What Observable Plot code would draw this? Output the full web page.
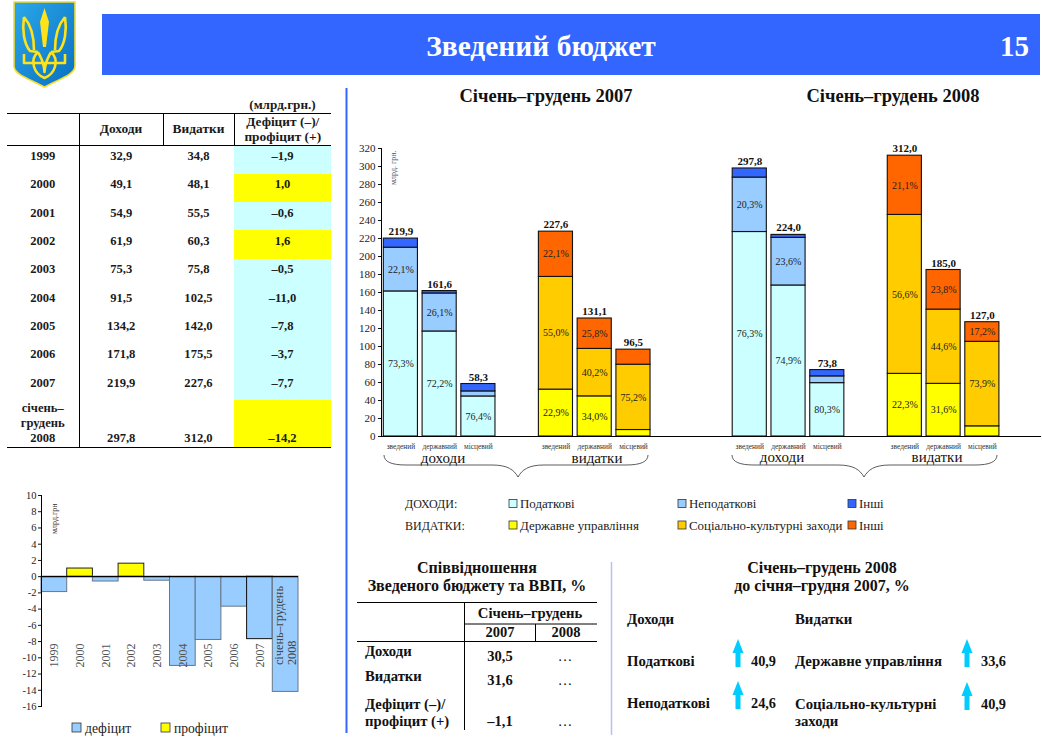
<!DOCTYPE html>
<html lang="uk">
<head>
<meta charset="utf-8">
<script src="https://cdn.jsdelivr.net/npm/d3@7"></script>
<script src="https://cdn.jsdelivr.net/npm/@observablehq/plot@0.6"></script>
<style>
html,body{margin:0;padding:0;background:#fff}
#page{position:relative;width:1042px;height:742px;overflow:hidden;font-family:"Liberation Serif",serif;color:#111}
#page>svg{position:absolute}
#balance{position:absolute;left:7px;top:97px;width:324px;border-collapse:collapse;table-layout:fixed;font-size:12.6px;font-weight:bold;text-align:center;color:#1a1a1a}
#balance td,#balance th{padding:0;height:28.3px;vertical-align:middle;font-weight:bold;line-height:15px}
#balance td{padding-bottom:6px;box-sizing:border-box}
#balance th{line-height:14.5px;font-size:13.4px}
#balance .cap th{height:16px;border:0;line-height:16px;font-size:13.2px}
#balance .hd th{height:31px;border-top:1px solid #000;border-bottom:1px solid #000}
#balance .hd th+th{border-left:1px solid #000}
#balance td:first-child{border-right:1px solid #000}
#balance tr.last td{height:47px;padding:0 0 1px;vertical-align:bottom;border-bottom:1px solid #000}
</style>
</head>
<body>
<div id="page"></div>
<script>
// ---------- Top-left table ----------
const tableYears = ["1999","2000","2001","2002","2003","2004","2005","2006","2007"];
const tableLastYear = ["січень–","грудень","2008"];
const revenues = [32.9,49.1,54.9,61.9,75.3,91.5,134.2,171.8,219.9,297.8];
const expenses = [34.8,48.1,55.5,60.3,75.8,102.5,142.0,175.5,227.6,312.0];
const balances = [-1.9,1.0,-0.6,1.6,-0.5,-11.0,-7.8,-3.7,-7.7,-14.2];

// ---------- Deficit chart ----------
const deficitLabels = ["1999","2000","2001","2002","2003","2004","2005","2006","2007","січень–грудень|2008"];

// ---------- Main stacked chart ----------
const slots = ["a0","a1","a2","s0","b0","b1","b2","s1","s2","c0","c1","c2","s3","d0","d1","d2","s4"];
const barSlots = ["a0","a1","a2","b0","b1","b2","c0","c1","c2","d0","d1","d2"];
const barNames = ["зведений","державний","місцевий"];
const barTotals = [219.9,161.6,58.3,227.6,131.1,96.5,297.8,224.0,73.8,312.0,185.0,127.0];
const lowerValues = [161.2,116.7,44.5,52.1,44.6,7.2,227.2,167.8,59.3,69.6,58.5,11.3];
const middleValues = [48.6,42.2,5.6,125.2,52.7,72.6,60.5,52.9,7.5,176.6,82.5,93.9];
const upperValues = [10.1,2.7,8.2,50.3,33.8,16.7,10.1,3.3,7.0,65.8,44.0,21.8];
const lowerShares = ["73,3%","72,2%","76,4%","22,9%","34,0%","","76,3%","74,9%","80,3%","22,3%","31,6%",""];
const middleShares = ["22,1%","26,1%","","55,0%","40,2%","75,2%","20,3%","23,6%","","56,6%","44,6%","73,9%"];
const upperShares = ["","","","22,1%","25,8%","","","","","21,1%","23,8%","17,2%"];
const incomeColors = ["#ccffff","#99ccff","#3366ff"];
const spendColors = ["#ffff00","#ffcc00","#ff6600"];

const legendIncome = ["Податкові","Неподаткові","Інші"];
const legendSpend = ["Державне управління","Соціально-культурні заходи","Інші"];

const ratioRows = [["Доходи","30,5","…"],["Видатки","31,6","…"],["профіцит (+)","–1,1","…"]];

const comma = v => v.toFixed(1).replace(".",",");
const signed = v => (v<0?"–":"")+Math.abs(v).toFixed(1).replace(".",",");
const serif = '"Liberation Serif",serif';
const page = document.getElementById("page");

// ---------- Table (HTML) ----------
const tb = document.createElement("table");
tb.id = "balance";
let html = '<colgroup><col style="width:72px"><col style="width:84px"><col style="width:71px"><col style="width:97px"></colgroup>';
html += '<tr class="cap"><th></th><th></th><th></th><th>(млрд.грн.)</th></tr>';
html += '<tr class="hd"><th></th><th>Доходи</th><th>Видатки</th><th>Дефіцит (–)/<br>профіцит (+)</th></tr>';
tableYears.forEach((y,i)=>{
  html += `<tr><td>${y}</td><td>${comma(revenues[i])}</td><td>${comma(expenses[i])}</td><td style="background:${balances[i]>0?"#ffff00":"#ccffff"}">${signed(balances[i])}</td></tr>`;
});
const n = tableYears.length;
html += `<tr class="last"><td>${tableLastYear.join("<br>")}</td><td>${comma(revenues[n])}</td><td>${comma(expenses[n])}</td><td style="background:#ffff00">${signed(balances[n])}</td></tr>`;
tb.innerHTML = html;
page.appendChild(tb);

// ---------- Main chart ----------
const stackRows = [];
barSlots.forEach((s,i)=>{
  const colors = i%6<3 ? incomeColors : spendColors;
  [[lowerValues,lowerShares],[middleValues,middleShares],[upperValues,upperShares]].forEach(([vals,shares],k)=>{
    stackRows.push({slot:s,layer:k,value:vals[i],share:shares[i],color:colors[k]});
  });
});
const totalRows = barSlots.map((s,i)=>({slot:s,total:barTotals[i]}));
const main = Plot.plot({
  width:690,height:340,
  marginLeft:31,marginRight:0,marginTop:18,marginBottom:34,
  style:{fontFamily:serif,background:"transparent",overflow:"visible"},
  x:{domain:slots,paddingInner:0.12,paddingOuter:0.06,round:false,axis:null},
  y:{domain:[0,320],axis:null},
  marks:[
    Plot.rectY(stackRows,Plot.stackY({x:"slot",y:"value",z:"layer",fill:"color",stroke:"#111",strokeWidth:1.1})),
    Plot.text(stackRows,Plot.stackY({x:"slot",y:"value",z:"layer",text:"share",fontSize:10,fill:"#222"})),
    Plot.text(totalRows,{x:"slot",y:"total",text:d=>comma(d.total),dy:-7,fontSize:11,fontWeight:"bold",fill:"#111"}),
    Plot.axisY({ticks:d3.range(0,321,20),tickFormat:d=>String(d),tickSize:3,tickPadding:3,fontSize:11,fill:"#222",label:null}),
    Plot.axisX({domain:barSlots,ticks:barSlots,tickSize:0,tickPadding:7,fontSize:7.4,fill:"#333",label:null,
      tickFormat:s=>barNames[barSlots.indexOf(s)%3]}),
    Plot.frame({anchor:"left",stroke:"#000",strokeWidth:1}),
    Plot.frame({anchor:"bottom",stroke:"#000",strokeWidth:1.2})
  ]
});
main.style.left="350px";main.style.top="130px";
page.appendChild(main);

// ---------- Deficit chart ----------
const defRows = deficitLabels.map((l,i)=>({label:l,value:balances[i]}));
const deficit = Plot.plot({
  width:300,height:230,
  marginLeft:41,marginRight:2,marginTop:15,marginBottom:4,
  style:{fontFamily:serif,background:"transparent",overflow:"visible"},
  x:{domain:deficitLabels,padding:0,round:false,axis:null},
  y:{domain:[-16,10],axis:null},
  marks:[
    Plot.barY(defRows,{x:"label",y:"value",fill:d=>d.value>0?"#ffff00":"#99ccff",
      stroke:d=>d.value>0?"#222":(d.label==="2007"?"#111":"#667788"),strokeWidth:1}),
    Plot.ruleY([0],{stroke:"#000",strokeWidth:1.3}),
    Plot.text(defRows.filter(d=>!d.label.includes("|")),{x:"label",y:()=>-11.2,text:"label",rotate:-90,textAnchor:"start",fontSize:12,fill:"#555"}),
    Plot.text(defRows.filter(d=>d.label.includes("|")),{x:"label",y:()=>-10.9,text:d=>d.label.replace("|","\n"),rotate:-90,textAnchor:"start",fontSize:12.3,lineHeight:1.05,fill:"#444"}),
    Plot.axisY({ticks:d3.range(-16,11,2),tickFormat:d=>String(d),tickSize:3,tickPadding:2,fontSize:10.5,fill:"#222",label:null}),
    Plot.frame({anchor:"left",stroke:"#000",strokeWidth:1})
  ]
});
deficit.style.left="0px";deficit.style.top="480px";
page.appendChild(deficit);

// ---------- Slide furniture ----------
const svg = d3.select(page).append("svg").attr("width",1042).attr("height",742).style("left",0).style("top",0);
function t(s,x,y,o={}){
  const e = svg.append("text").attr("x",x).attr("y",y).text(s)
    .attr("font-family",serif).attr("font-size",o.size||13)
    .attr("font-weight",o.bold?"bold":"normal")
    .attr("text-anchor",o.anchor||"start").attr("fill",o.fill||"#111");
  if(o.rot) e.attr("transform",`rotate(${o.rot} ${x} ${y})`);
  return e;
}
function line(x1,y1,x2,y2,c="#000",w=1){svg.append("line").attr("x1",x1).attr("y1",y1).attr("x2",x2).attr("y2",y2).attr("stroke",c).attr("stroke-width",w);}

// header
svg.append("rect").attr("x",102).attr("y",14).attr("width",938).attr("height",61).attr("fill","#3366ff");
t("Зведений бюджет",541,56,{size:29.5,bold:true,fill:"#fff",anchor:"middle"});
t("15",1029,56,{size:29,bold:true,fill:"#fff",anchor:"end"});

// crest
const defs = svg.append("defs");
const g = defs.append("linearGradient").attr("id","sh").attr("x1",0).attr("x2",1).attr("y1",0).attr("y2",1);
g.append("stop").attr("offset",0).attr("stop-color","#2aa8ea");
g.append("stop").attr("offset",1).attr("stop-color","#0a6fc0");
svg.append("path").attr("d","M14 2H75V66C75 74 62 78 44.5 87C27 78 14 74 14 66Z")
  .attr("fill","url(#sh)").attr("stroke","#f4dc30").attr("stroke-width",1.6);
svg.append("path").attr("fill","#ffe21a").attr("d","M44.5 8L40 22L43 47H46L49 22Z");
svg.append("path").attr("fill","none").attr("stroke","#ffe21a").attr("stroke-width",2.6).attr("stroke-linejoin","round")
  .attr("d","M24 17C22 30 24 44 30 51L38 52 M65 17C67 30 65 44 59 51L51 52 M24 17C31 25 34 38 34 50 M65 17C58 25 55 38 55 50 M24 54V63H36 M65 54V63H53 M38 52C29 60 34 74 44.5 78C55 74 60 60 51 52 M38 52C41 58 44 62 44.5 72C45 62 48 58 51 52 M36 63H53");

// dividers
line(346.5,88,346.5,733,"#3366ff",2);
line(611.5,562,611.5,735,"#b4c2f2",1.5);

// main titles
t("Січень–грудень 2007",546,102,{size:18.5,bold:true,anchor:"middle"});
t("Січень–грудень 2008",893,102,{size:18.5,bold:true,anchor:"middle"});
t("млрд. грн.",396,185,{size:8,fill:"#555",rot:-90});
t("млрд.грн",57,534,{size:8,fill:"#333",rot:-90});

// braces
function brace(l,tip,r){
  svg.append("path").attr("fill","none").attr("stroke","#333").attr("stroke-width",.8)
   .attr("d",`M${l} 455C${l} 462 ${l+8} 465 ${l+22} 465L${tip-26} 465C${tip-10} 465 ${tip-4} 470 ${tip} 477C${tip+4} 470 ${tip+10} 465 ${tip+26} 465L${r-22} 465C${r-8} 465 ${r} 462 ${r} 455`);
}
brace(384,518,648);brace(732,864,997);
t("доходи",443,463,{size:15,anchor:"middle"});
t("видатки",597,463,{size:15,anchor:"middle"});
t("доходи",782,462,{size:15,anchor:"middle"});
t("видатки",937,462,{size:15,anchor:"middle"});

// legend
t("ДОХОДИ:",405,508,{size:12,fill:"#222"});
t("ВИДАТКИ:",405,530,{size:12,fill:"#222"});
[509,678,848].forEach((x,i)=>{
  [[504,incomeColors,legendIncome],[525.5,spendColors,legendSpend]].forEach(([y,cols,names])=>{
    svg.append("rect").attr("x",x).attr("y",y-4.5).attr("width",8).attr("height",8).attr("fill",cols[i]).attr("stroke","#333").attr("stroke-width",.8);
    t(names[i],x+11,y+4,{size:12.9,fill:"#222"});
  });
});

// ratio table
t("Співвідношення",477,573,{size:16,bold:true,anchor:"middle"});
t("Зведеного бюджету та ВВП, %",477,591,{size:16,bold:true,anchor:"middle"});
line(357,602.5,597,602.5);line(464,624,597,624);line(357,641.5,597,641.5);
line(464.5,602,464.5,730);line(535.5,624,535.5,641);
t("Січень–грудень",530,618,{size:14.7,bold:true,anchor:"middle"});
t("2007",500,637,{size:14.5,bold:true,anchor:"middle"});
t("2008",566,637,{size:14.5,bold:true,anchor:"middle"});
const ratioY=[[656,661],[681,685],[726,726]];
ratioRows.forEach((r,i)=>{
  t(r[0],365,ratioY[i][0],{size:14.7,bold:true});
  t(r[1],500,ratioY[i][1],{size:14.5,bold:true,anchor:"middle"});
  t(r[2],565,ratioY[i][1],{size:14.5,anchor:"middle"});
});
t("Дефіцит (–)/",365,709,{size:14.7,bold:true});

// growth
t("Січень–грудень 2008",822,573,{size:16,bold:true,anchor:"middle"});
t("до січня–грудня 2007, %",822,591,{size:16,bold:true,anchor:"middle"});
t("Доходи",627,624,{size:14.8,bold:true});
t("Видатки",795,624,{size:14.8,bold:true});
const growth=[["Податкові",627,666,738,751,"40,9"],["Неподаткові",627,708,738,751,"24,6"],["Державне управління",795,666,967,981,"33,6"],["Соціально-культурні",795,709,967,981,"40,9"]];
growth.forEach(([s,x,y,ax,vx,v])=>{
  t(s,x,y,{size:14.8,bold:true});
  t(v,vx,y,{size:14.3,bold:true});
  svg.append("path").attr("fill","#00ccff").attr("d",`M${ax-5.5} ${y-13}L${ax} ${y-27}L${ax+5.5} ${y-13}H${ax+2.5}V${y+1}H${ax-2.5}V${y-13}Z`);
});
t("заходи",795,726,{size:14.8,bold:true});

// deficit legend
[[72,"#99ccff","дефіцит"],[161,"#ffff00","профіцит"]].forEach(([x,c,s])=>{
  svg.append("rect").attr("x",x).attr("y",723).attr("width",9).attr("height",9).attr("fill",c).attr("stroke","#333").attr("stroke-width",.8);
  t(s,x+13,733,{size:13.6,fill:"#222"});
});
</script>
</body>
</html>
